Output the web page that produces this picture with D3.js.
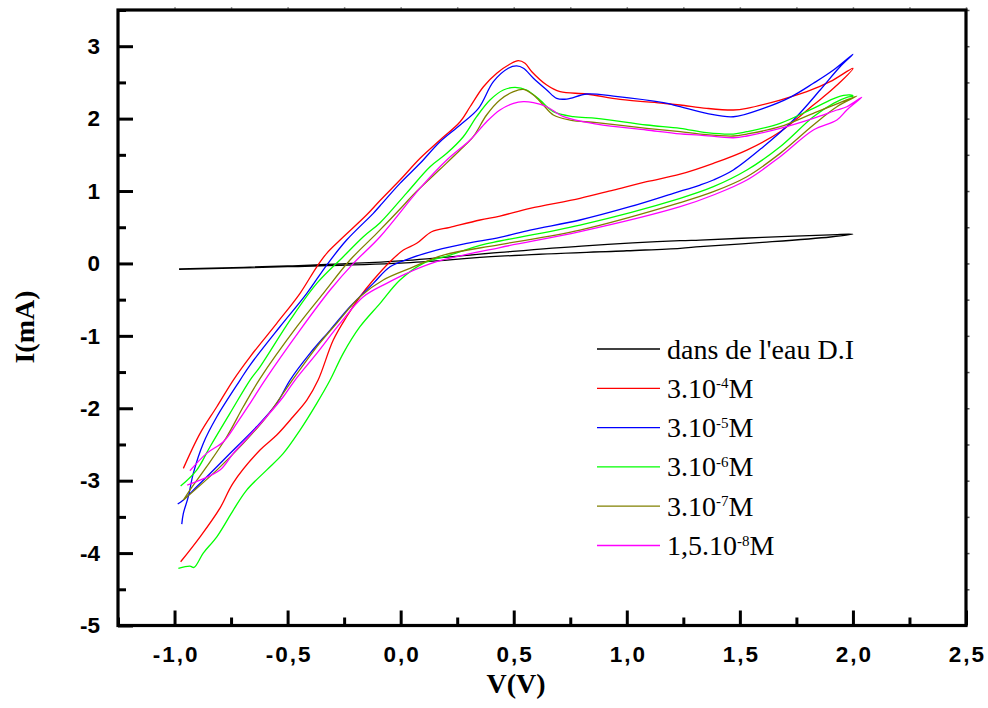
<!DOCTYPE html>
<html><head><meta charset="utf-8">
<script src="https://cdn.jsdelivr.net/npm/d3@7/dist/d3.min.js"></script>
<style>
html,body{margin:0;padding:0;background:#fff;}
svg{display:block;}
</style></head>
<body>
<svg id="chart" width="988" height="708"></svg>
<script>
// ---- Data (V in volts, I in mA), each loop traced in sweep order ----
const xTicks = [-1.0, -0.5, 0.0, 0.5, 1.0, 1.5, 2.0, 2.5];
const yTicks = [-5, -4, -3, -2, -1, 0, 1, 2, 3];
const legendLabels = [
  ["dans de l'eau D.I", null, ""],
  ["3.10", "-4", "M"],
  ["3.10", "-5", "M"],
  ["3.10", "-6", "M"],
  ["3.10", "-7", "M"],
  ["1,5.10", "-8", "M"]
];
const seriesColors = ["#000000", "#ff0000", "#0000ff", "#00ff00", "#808000", "#ff00ff"];

const waterDI = [[-0.98,-0.08],[-0.5,-0.045],[0.0,0.005],[0.44,0.10],[1.0,0.175],[1.236,0.209],[1.324,0.231],[1.6,0.29],[1.9,0.365],[2.0,0.405],
  [1.9,0.395],[1.6,0.36],[1.324,0.323],[1.236,0.315],[0.8,0.24],[0.44,0.153],[0.0,0.035],[-0.5,-0.035],[-0.98,-0.075]];

const conc4 = [[-0.973,-4.12],[-0.887,-3.775],[-0.799,-3.378],[-0.741,-3.033],[-0.622,-2.577],[-0.548,-2.37],[-0.476,-2.117],[-0.415,-1.887],[-0.365,-1.61],[-0.298,-1.058],[-0.239,-0.736],[-0.18,-0.46],[-0.121,-0.229],[-0.047,0.024],[0.012,0.185],[0.071,0.278],[0.137,0.438],[0.218,0.499],[0.351,0.60],[0.439,0.655],[0.572,0.761],[0.793,0.899],[0.941,1.014],[1.088,1.129],[1.236,1.233],[1.383,1.383],[1.531,1.566],[1.678,1.819],[1.825,2.188],[1.914,2.418],[2.0,2.695],
  [1.899,2.51],[1.796,2.372],[1.678,2.257],[1.531,2.142],[1.471,2.119],[1.353,2.142],[1.236,2.188],[1.162,2.211],[0.97,2.266],[0.823,2.34],[0.705,2.372],[0.646,2.464],[0.58,2.648],[0.55,2.764],[0.52,2.80],[0.484,2.754],[0.425,2.626],[0.366,2.44],[0.307,2.164],[0.263,1.957],[0.174,1.704],[0.086,1.452],[-0.003,1.152],[-0.091,0.87],[-0.15,0.672],[-0.268,0.323],[-0.327,0.14],[-0.371,-0.046],[-0.445,-0.413],[-0.548,-0.827],[-0.666,-1.289],[-0.74,-1.61],[-0.813,-1.979],[-0.887,-2.347],[-0.961,-2.83]];

const conc5 = [[-0.986,-3.323],[-0.961,-3.268],[-0.902,-3.084],[-0.813,-2.807],[-0.725,-2.531],[-0.637,-2.255],[-0.548,-1.932],[-0.489,-1.61],[-0.401,-1.242],[-0.312,-0.92],[-0.224,-0.598],[-0.121,-0.275],[-0.047,-0.046],[0.041,0.07],[0.159,0.185],[0.292,0.278],[0.439,0.36],[0.572,0.461],[0.793,0.60],[1.014,0.783],[1.206,0.968],[1.324,1.083],[1.383,1.152],[1.471,1.29],[1.604,1.612],[1.737,1.981],[1.855,2.395],[1.943,2.717],[2.0,2.888],
  [1.914,2.671],[1.825,2.488],[1.722,2.294],[1.604,2.142],[1.471,2.026],[1.353,2.073],[1.236,2.164],[1.162,2.22],[0.941,2.312],[0.823,2.34],[0.734,2.27],[0.69,2.28],[0.646,2.395],[0.587,2.557],[0.543,2.695],[0.513,2.727],[0.476,2.695],[0.41,2.51],[0.344,2.142],[0.263,1.912],[0.174,1.681],[0.086,1.383],[-0.003,1.106],[-0.091,0.797],[-0.121,0.692],[-0.239,0.323],[-0.327,-0.022],[-0.415,-0.413],[-0.534,-0.874],[-0.666,-1.403],[-0.71,-1.61],[-0.813,-2.117],[-0.873,-2.485],[-0.917,-2.899],[-0.939,-3.22],[-0.961,-3.452],[-0.968,-3.6]];

const conc6 = [[-0.983,-4.211],[-0.932,-4.18],[-0.914,-4.198],[-0.873,-4.0],[-0.813,-3.775],[-0.74,-3.406],[-0.681,-3.13],[-0.593,-2.854],[-0.519,-2.623],[-0.445,-2.301],[-0.371,-1.932],[-0.312,-1.61],[-0.254,-1.242],[-0.18,-0.874],[-0.091,-0.551],[-0.003,-0.229],[0.1,0.001],[0.218,0.116],[0.351,0.25],[0.439,0.31],[0.793,0.53],[1.236,0.9],[1.383,1.06],[1.531,1.29],[1.678,1.612],[1.825,2.026],[1.914,2.211],[1.973,2.294],[2.0,2.31],
  [1.987,2.326],[1.929,2.294],[1.825,2.142],[1.678,1.935],[1.531,1.819],[1.471,1.787],[1.353,1.806],[1.236,1.866],[1.088,1.912],[0.867,2.004],[0.764,2.027],[0.675,2.096],[0.616,2.257],[0.557,2.395],[0.506,2.432],[0.454,2.395],[0.395,2.257],[0.336,2.027],[0.277,1.75],[0.204,1.521],[0.13,1.336],[0.027,0.975],[-0.091,0.562],[-0.165,0.369],[-0.254,0.093],[-0.371,-0.275],[-0.489,-0.782],[-0.622,-1.427],[-0.666,-1.61],[-0.755,-2.07],[-0.843,-2.531],[-0.902,-2.854],[-0.973,-3.075]];

const conc7 = [[-0.961,-3.268],[-0.813,-2.854],[-0.696,-2.485],[-0.593,-2.117],[-0.489,-1.656],[-0.371,-1.151],[-0.283,-0.827],[-0.18,-0.46],[-0.077,-0.229],[0.041,-0.068],[0.189,0.116],[0.439,0.26],[0.793,0.461],[1.236,0.84],[1.383,0.991],[1.531,1.198],[1.678,1.52],[1.825,1.912],[1.929,2.164],[2.017,2.312],
  [1.943,2.22],[1.825,2.073],[1.678,1.888],[1.531,1.787],[1.471,1.76],[1.324,1.787],[1.236,1.819],[1.088,1.866],[0.867,1.944],[0.749,1.98],[0.675,2.05],[0.631,2.188],[0.587,2.326],[0.543,2.404],[0.499,2.372],[0.439,2.257],[0.38,2.05],[0.321,1.75],[0.263,1.566],[0.174,1.30],[0.056,0.95],[0.012,0.80],[-0.106,0.415],[-0.224,0.047],[-0.342,-0.413],[-0.459,-0.874],[-0.622,-1.59],[-0.696,-1.979],[-0.769,-2.393],[-0.858,-2.807],[-0.932,-3.13],[-0.961,-3.268]];

const conc8 = [[-0.944,-3.061],[-0.887,-2.992],[-0.799,-2.854],[-0.74,-2.623],[-0.666,-2.37],[-0.593,-2.117],[-0.519,-1.841],[-0.467,-1.61],[-0.371,-1.242],[-0.268,-0.827],[-0.165,-0.46],[-0.062,-0.275],[0.027,-0.137],[0.159,0.024],[0.439,0.22],[0.793,0.438],[1.236,0.783],[1.383,0.945],[1.531,1.152],[1.678,1.474],[1.825,1.843],[1.929,1.981],[1.973,2.119],[2.039,2.294],
  [1.973,2.164],[1.929,2.119],[1.825,2.004],[1.678,1.866],[1.531,1.76],[1.471,1.736],[1.324,1.773],[1.236,1.79],[1.088,1.843],[0.867,1.925],[0.72,2.027],[0.646,2.164],[0.587,2.22],[0.543,2.234],[0.499,2.211],[0.439,2.119],[0.38,1.957],[0.307,1.704],[0.204,1.428],[0.086,1.04],[-0.091,0.369],[-0.209,0.001],[-0.312,-0.367],[-0.445,-0.92],[-0.6,-1.61],[-0.666,-1.932],[-0.725,-2.209],[-0.784,-2.462],[-0.858,-2.623],[-0.932,-2.863]];

const allSeries = [waterDI, conc4, conc5, conc6, conc7, conc8];

// ---- Layout ----
const svg = d3.select("#chart");
const L = 118, R = 966, T = 10, B = 625.5;
const x = d3.scaleLinear().domain([-1.25, 2.5]).range([L, R]);
const y = d3.scaleLinear().domain([-5, 3.5]).range([B, T]);
const fmtX = d => d3.format(".1f")(d).replace(".", ",").replace("\u2212", "-");
const fmtY = d => d3.format("d")(d).replace("\u2212", "-");

// curves
const line = d3.line().x(d => x(d[0])).y(d => y(d[1])).curve(d3.curveCatmullRom.alpha(0.5));
svg.append("g").selectAll("path").data(allSeries).join("path")
  .attr("d", line).attr("fill", "none")
  .attr("stroke", (d, i) => seriesColors[i]).attr("stroke-width", 1.3);

// axes
const tickFont = g => g.selectAll("text").attr("font-family", "Liberation Sans, Arial, sans-serif")
  .attr("font-weight", "bold").attr("font-size", 22.5).attr("fill", "#000");
const minorX = d3.range(-1.25, 2.5001, 0.25).filter(v => Math.abs(v * 2 - Math.round(v * 2)) > 1e-6);
const minorY = d3.range(-4.5, 3.5001, 1);

const gx = svg.append("g").attr("transform", `translate(0,${B})`)
  .call(d3.axisBottom(x).tickValues(xTicks).tickFormat(fmtX).tickSizeInner(-15).tickSizeOuter(0).tickPadding(21));
gx.select(".domain").remove();
gx.selectAll("line").attr("stroke-width", 3);
gx.call(tickFont);
gx.selectAll("text").attr("letter-spacing", 2).attr("dx", 1);
const gxm = svg.append("g").attr("transform", `translate(0,${B})`)
  .call(d3.axisBottom(x).tickValues(minorX).tickFormat("").tickSizeInner(-8).tickSizeOuter(0));
gxm.select(".domain").remove();
gxm.selectAll("line").attr("stroke-width", 3);

const gy = svg.append("g").attr("transform", `translate(${L},0)`)
  .call(d3.axisLeft(y).tickValues(yTicks).tickFormat(fmtY).tickSizeInner(-15).tickSizeOuter(0).tickPadding(18));
gy.select(".domain").remove();
gy.selectAll("line").attr("stroke-width", 3);
gy.call(tickFont);
const gym = svg.append("g").attr("transform", `translate(${L},0)`)
  .call(d3.axisLeft(y).tickValues(minorY).tickFormat("").tickSizeInner(-8).tickSizeOuter(0));
gym.select(".domain").remove();
gym.selectAll("line").attr("stroke-width", 3);

// tiny outer ticks on top and right
const gt = svg.append("g").attr("transform", `translate(0,${T})`)
  .call(d3.axisTop(x).tickValues(d3.range(-1.0, 2.5001, 0.25)).tickFormat("").tickSizeInner(3).tickSizeOuter(0));
gt.select(".domain").remove();
gt.selectAll("line").attr("stroke", "#999").attr("stroke-width", 1.5);
const gr = svg.append("g").attr("transform", `translate(${R},0)`)
  .call(d3.axisRight(y).tickValues(d3.range(-4.5, 3.5001, 0.5)).tickFormat("").tickSizeInner(3.5).tickSizeOuter(0));
gr.select(".domain").remove();
gr.selectAll("line").attr("stroke", "#555").attr("stroke-width", 1.5);

// frame
svg.append("rect").attr("x", L).attr("y", T).attr("width", R - L).attr("height", B - T)
  .attr("fill", "none").attr("stroke", "#000").attr("stroke-width", 3.2);

// axis titles
svg.append("text").attr("x", 516).attr("y", 693).attr("text-anchor", "middle")
  .attr("font-family", "Liberation Serif, Times New Roman, serif").attr("font-weight", "bold")
  .attr("font-size", 28).text("V(V)");
svg.append("text").attr("transform", "translate(34,327) rotate(-90)").attr("text-anchor", "middle")
  .attr("font-family", "Liberation Serif, Times New Roman, serif").attr("font-weight", "bold")
  .attr("font-size", 28).text("I(mA)");

// legend
const lg = svg.append("g");
legendLabels.forEach((lab, i) => {
  const yy = 349 + i * 39.3;
  lg.append("line").attr("x1", 597).attr("x2", 660).attr("y1", yy).attr("y2", yy)
    .attr("stroke", seriesColors[i]).attr("stroke-width", 1.3);
  const t = lg.append("text").attr("x", 667).attr("y", yy + 9.5)
    .attr("font-family", "Liberation Serif, Times New Roman, serif").attr("font-size", 28).attr("fill", "#000");
  t.append("tspan").text(lab[0]);
  if (lab[1]) {
    t.append("tspan").attr("font-size", 15).attr("dy", -9.5).text(lab[1]);
    t.append("tspan").attr("font-size", 28).attr("dy", 9.5).text(lab[2]);
  }
});
</script>
</body></html>
